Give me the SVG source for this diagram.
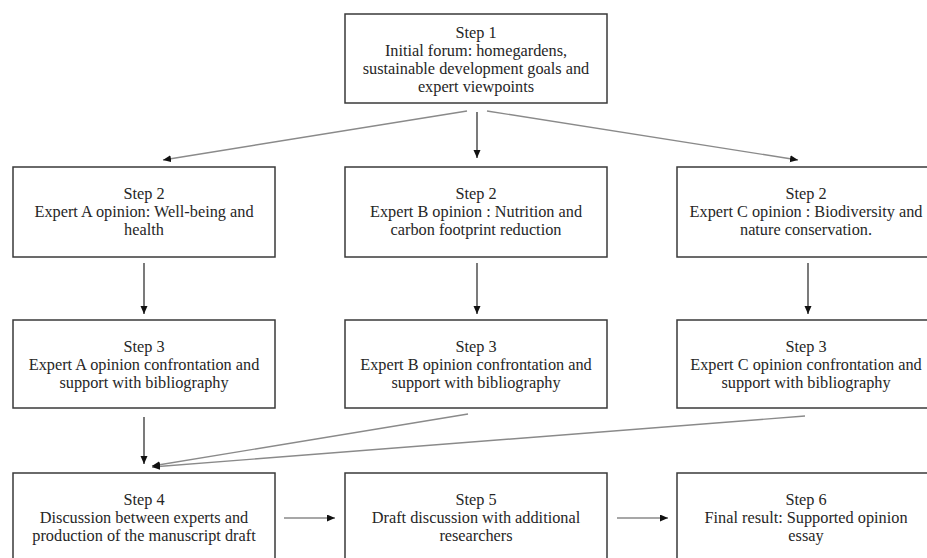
<svg xmlns="http://www.w3.org/2000/svg" width="927" height="558" viewBox="0 0 927 558">
  <style>
    .box { fill: #ffffff; stroke: #3a3a3a; stroke-width: 1.5; }
    .t { font-family: "Liberation Serif", "Times New Roman", serif; font-size: 16.3px; fill: #262626; text-anchor: middle; }
    .dark { stroke: #222222; stroke-width: 1.2; fill: none; }
    .gray { stroke: #8a8a8a; stroke-width: 1.4; fill: none; }
  </style>
  <defs>
    <marker id="ah" markerUnits="userSpaceOnUse" markerWidth="9" markerHeight="8" refX="8" refY="3.5" orient="auto">
      <path d="M0,0 L8,3.5 L0,7 z" fill="#111111"/>
    </marker>
  </defs>
  <rect width="927" height="558" fill="#ffffff"/>

  <g id="connectors">
    <line class="gray" x1="467" y1="111" x2="163" y2="160" marker-end="url(#ah)"/>
    <line class="dark" x1="477" y1="112" x2="477" y2="158" marker-end="url(#ah)"/>
    <line class="gray" x1="487" y1="111" x2="798" y2="160" marker-end="url(#ah)"/>
    <line class="dark" x1="144" y1="263" x2="144" y2="314" marker-end="url(#ah)"/>
    <line class="dark" x1="477" y1="263" x2="477" y2="314" marker-end="url(#ah)"/>
    <line class="dark" x1="808" y1="263" x2="808" y2="314" marker-end="url(#ah)"/>
    <line class="dark" x1="144" y1="417" x2="144" y2="464" marker-end="url(#ah)"/>
    <line class="gray" x1="468" y1="414" x2="152" y2="466" marker-end="url(#ah)"/>
    <line class="gray" x1="805" y1="416" x2="152" y2="467" marker-end="url(#ah)"/>
    <line class="gray" x1="284" y1="518" x2="335" y2="518" marker-end="url(#ah)"/>
    <line class="gray" x1="617" y1="518" x2="668" y2="518" marker-end="url(#ah)"/>
  </g>

  <g id="step1">
    <rect class="box" x="345" y="14" width="262" height="89"/>
    <text class="t" x="476" y="38">Step 1</text>
    <text class="t" x="476" y="56">Initial forum: homegardens,</text>
    <text class="t" x="476" y="74">sustainable development  goals and</text>
    <text class="t" x="476" y="92">expert viewpoints</text>
  </g>

  <g id="step2a">
    <rect class="box" x="13" y="167" width="262" height="90"/>
    <text class="t" x="144" y="199">Step 2</text>
    <text class="t" x="144" y="217">Expert A opinion:  Well-being and</text>
    <text class="t" x="144" y="235">health</text>
  </g>
  <g id="step2b">
    <rect class="box" x="345" y="167" width="262" height="90"/>
    <text class="t" x="476" y="199">Step 2</text>
    <text class="t" x="476" y="217">Expert B opinion : Nutrition and</text>
    <text class="t" x="476" y="235">carbon footprint reduction</text>
  </g>
  <g id="step2c">
    <rect class="box" x="677" y="167" width="262" height="90"/>
    <text class="t" x="806" y="199">Step 2</text>
    <text class="t" x="806" y="217">Expert C opinion : Biodiversity and</text>
    <text class="t" x="806" y="235">nature conservation.</text>
  </g>

  <g id="step3a">
    <rect class="box" x="13" y="320" width="262" height="88"/>
    <text class="t" x="144" y="352">Step 3</text>
    <text class="t" x="144" y="370">Expert  A opinion confrontation and</text>
    <text class="t" x="144" y="388">support  with bibliography</text>
  </g>
  <g id="step3b">
    <rect class="box" x="345" y="320" width="262" height="88"/>
    <text class="t" x="476" y="352">Step 3</text>
    <text class="t" x="476" y="370">Expert  B opinion  confrontation and</text>
    <text class="t" x="476" y="388">support  with bibliography</text>
  </g>
  <g id="step3c">
    <rect class="box" x="677" y="320" width="262" height="88"/>
    <text class="t" x="806" y="352">Step 3</text>
    <text class="t" x="806" y="370">Expert  C opinion confrontation and</text>
    <text class="t" x="806" y="388">support  with bibliography</text>
  </g>

  <g id="step4">
    <rect class="box" x="13" y="473" width="262" height="100"/>
    <text class="t" x="144" y="505">Step 4</text>
    <text class="t" x="144" y="523">Discussion between experts  and</text>
    <text class="t" x="144" y="541">production of the manuscript draft</text>
  </g>
  <g id="step5">
    <rect class="box" x="345" y="473" width="262" height="100"/>
    <text class="t" x="476" y="505">Step 5</text>
    <text class="t" x="476" y="523">Draft discussion with additional</text>
    <text class="t" x="476" y="541">researchers</text>
  </g>
  <g id="step6">
    <rect class="box" x="677" y="473" width="262" height="100"/>
    <text class="t" x="806" y="505">Step 6</text>
    <text class="t" x="806" y="523">Final result: Supported  opinion</text>
    <text class="t" x="806" y="541">essay</text>
  </g>
</svg>
